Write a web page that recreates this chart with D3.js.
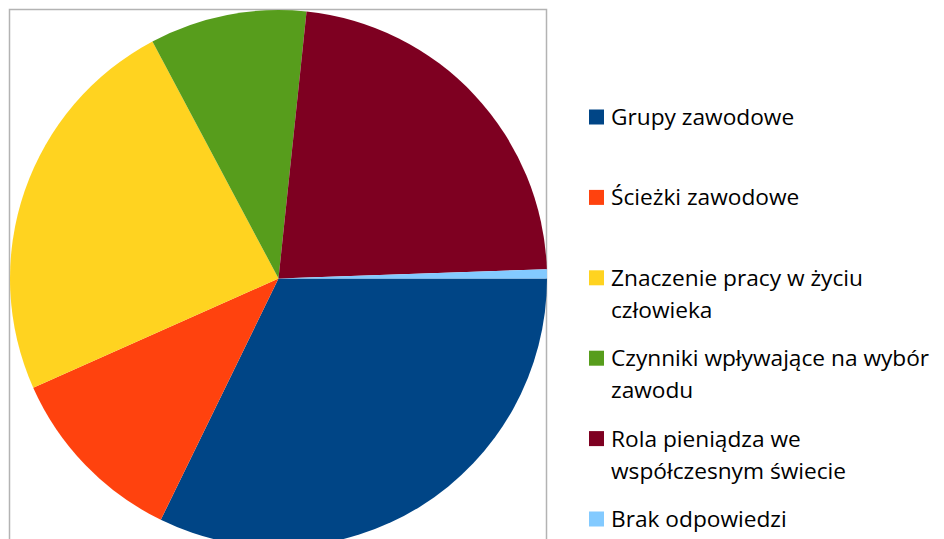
<!DOCTYPE html>
<html>
<head>
<meta charset="utf-8">
<script src="https://cdn.jsdelivr.net/npm/d3@7"></script>
<style>
  body { margin: 0; background: #fff; }
  svg { display: block; }
  .legend-text { font-family: "Open Sans", "Noto Sans", sans-serif; font-size: 22.7px; fill: #000; }
</style>
</head>
<body>
<svg id="chart" width="944" height="539"></svg>
<script>
// slice data (counts)
const categories = [
    "Grupy zawodowe",
    "Ścieżki zawodowe",
    "Znaczenie pracy w życiu człowieka",
    "Czynniki wpływające na wybór zawodu",
    "Rola pieniądza we współczesnym świecie",
    "Brak odpowiedzi"
];
const values = [58, 20, 43, 17, 41, 1];
const colors = ["#004586", "#ff420e", "#ffd320", "#579d1c", "#7e0021", "#83caff"];
// legend lines, wrapped as in the original
const legendLines = [
    ["Grupy zawodowe"],
    ["Ścieżki zawodowe"],
    ["Znaczenie pracy w życiu", "człowieka"],
    ["Czynniki wpływające na wybór", "zawodu"],
    ["Rola pieniądza we", "współczesnym świecie"],
    ["Brak odpowiedzi"]
];

const svg = d3.select("#chart");
const cx = 278.5, cy = 278.5, radius = 268.5;

// plot area frame
svg.append("path")
    .attr("d", "M9.5,539 V9.5 H546.5 V539")
    .attr("fill", "none")
    .attr("stroke", "#b3b3b3")
    .attr("stroke-width", 1.5);

const data = categories.map((c, i) => ({ name: c, value: values[i], color: colors[i] }));

const pie = d3.pie()
    .value(d => d.value)
    .sort(null)
    .startAngle(Math.PI / 2)
    .endAngle(Math.PI / 2 + 2 * Math.PI);

const arc = d3.arc().innerRadius(0).outerRadius(radius);

svg.append("g")
    .attr("transform", `translate(${cx},${cy})`)
    .selectAll("path")
    .data(pie(data))
    .join("path")
    .attr("d", arc)
    .attr("fill", d => d.data.color);

// legend
const legendY = d3.scalePoint()
    .domain(categories)
    .range([117, 519]);

const items = svg.append("g")
    .selectAll("g")
    .data(data)
    .join("g")
    .attr("transform", d => `translate(589,${legendY(d.name)})`);

items.append("rect")
    .attr("x", 0).attr("y", -7.5)
    .attr("width", 15).attr("height", 15)
    .attr("fill", d => d.color);

items.append("text")
    .attr("class", "legend-text")
    .attr("x", 22)
    .attr("y", 8)
    .selectAll("tspan")
    .data((d, i) => legendLines[i])
    .join("tspan")
    .attr("x", 22)
    .attr("dy", (d, j) => j === 0 ? 0 : 32)
    .text(d => d);
</script>
</body>
</html>
